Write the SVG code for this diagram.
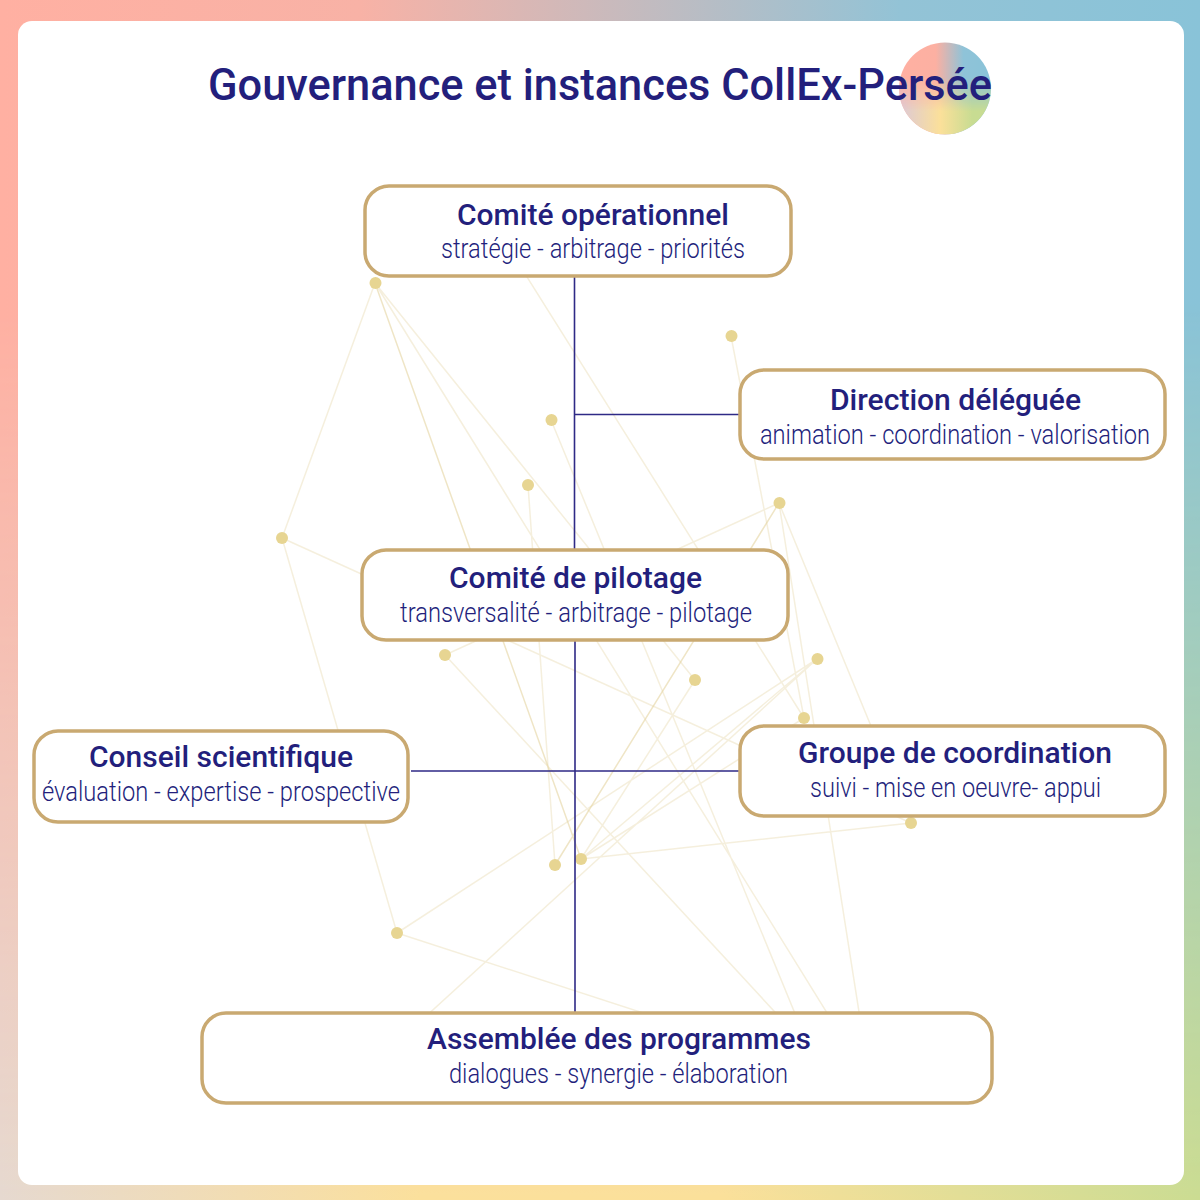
<svg xmlns="http://www.w3.org/2000/svg" width="1200" height="1200" viewBox="0 0 1200 1200">
<defs>
<linearGradient id="topg" x1="0" y1="0" x2="1" y2="0"><stop offset="0" stop-color="#ffb0a2"/><stop offset="0.3" stop-color="#f8b2a6"/><stop offset="0.75" stop-color="#93c3d6"/><stop offset="1" stop-color="#89c3d8"/></linearGradient>
<linearGradient id="botg" x1="0" y1="0" x2="1" y2="0"><stop offset="0" stop-color="#e6d9d0"/><stop offset="0.35" stop-color="#fbe09c"/><stop offset="0.6" stop-color="#fbe09a"/><stop offset="1" stop-color="#cbdc92"/></linearGradient>
<linearGradient id="fade" x1="0" y1="0" x2="0" y2="1"><stop offset="0.25" stop-color="#000"/><stop offset="1" stop-color="#fff"/></linearGradient>
<mask id="bm" maskContentUnits="objectBoundingBox"><rect width="1" height="1" fill="url(#fade)"/></mask>
<linearGradient id="ltop" x1="0" y1="0" x2="1" y2="0"><stop offset="0" stop-color="#ffb0a2"/><stop offset="0.4" stop-color="#fcb0a2"/><stop offset="0.7" stop-color="#8fc3d8"/><stop offset="1" stop-color="#8ac3d8"/></linearGradient>
<linearGradient id="lbot" x1="0" y1="0" x2="1" y2="0"><stop offset="0" stop-color="#dcc8d8"/><stop offset="0.45" stop-color="#fbe09a"/><stop offset="0.8" stop-color="#c8dc92"/></linearGradient>
<linearGradient id="lfade" x1="0" y1="0" x2="0" y2="1"><stop offset="0.38" stop-color="#000"/><stop offset="0.75" stop-color="#fff"/></linearGradient>
<mask id="lm" maskContentUnits="objectBoundingBox"><rect width="1" height="1" fill="url(#lfade)"/></mask>
<style>
.box{fill:#fff;stroke:#c9a971;stroke-width:3.5}
.t{font-family:Roboto,"Liberation Sans",sans-serif;fill:#231f7c;text-anchor:middle}
.h{font-size:30px;font-weight:500}
.s{font-size:28px;font-weight:300}
.w{stroke:#e4d4a0;stroke-width:1.5;opacity:.36;fill:none}
.x{stroke:#e4d4a0;stroke-width:1.5;opacity:.6;fill:none}
.c{stroke:#2f2a86;stroke-width:1.6;fill:none}
.d{fill:#e7d592}
</style>
</defs>
<g id="background">
<rect width="1200" height="1200" fill="url(#topg)"/>
<rect width="1200" height="1200" fill="url(#botg)" mask="url(#bm)"/>
<rect x="18" y="21" width="1166" height="1164" rx="14" fill="#fff"/>
</g>
<g id="logo">
<circle cx="945" cy="88.500" r="46" fill="url(#ltop)"/>
<circle cx="945" cy="88.500" r="46" fill="url(#lbot)" mask="url(#lm)"/>
</g>
<g id="network">
<path class="w" d="M375 283L282 538M375 283L850 1050M375 283L695 680M500 234L804 718M551 420L810 1050M528 485L555 865M731 336L804 718M445 655L779 503M779 503L865 1050M779 503L911 823M911 823L581 859M817 659L397 933M817 659L581 859M817 659L400 1040M282 538L911 823M282 538L397 933M397 933L757 1050M445 655L810 1050M581 859L695 680M581 859L804 718"/>
<path class="x" d="M375 283L581 859M779 503L555 865"/>
<circle class="d" cx="375.500" cy="283" r="6"/><circle class="d" cx="731.500" cy="336" r="6"/><circle class="d" cx="551.500" cy="420" r="6"/><circle class="d" cx="528" cy="485" r="6"/><circle class="d" cx="779.500" cy="503" r="6"/><circle class="d" cx="282" cy="538" r="6"/><circle class="d" cx="445" cy="655" r="6"/><circle class="d" cx="817.500" cy="659" r="6"/><circle class="d" cx="695" cy="680" r="6"/><circle class="d" cx="804" cy="718" r="6"/><circle class="d" cx="911" cy="823" r="6"/><circle class="d" cx="581" cy="859" r="6"/><circle class="d" cx="555" cy="865" r="6"/><circle class="d" cx="397" cy="933" r="6"/>
</g>
<g id="connectors">
<path class="c" d="M574.500 276V550M575 414.500H740M575 640V1013M411 771H740"/>
</g>
<text class="t" x="600" y="100" font-size="44" font-weight="500" textLength="784" lengthAdjust="spacingAndGlyphs">Gouvernance et instances CollEx-Persée</text>
<g id="comite-operationnel"><rect class="box" x="365" y="186" width="426" height="90" rx="24"/><text class="t h" x="593" y="225" textLength="272" lengthAdjust="spacingAndGlyphs">Comité opérationnel</text><text class="t s" x="593" y="258" textLength="304" lengthAdjust="spacingAndGlyphs">stratégie - arbitrage - priorités</text></g>
<g id="direction-deleguee"><rect class="box" x="740" y="370" width="425" height="89" rx="24"/><text class="t h" x="955.500" y="410" textLength="251" lengthAdjust="spacingAndGlyphs">Direction déléguée</text><text class="t s" transform="translate(955 444) scale(.846 1)">animation - coordination - valorisation</text></g>
<g id="comite-pilotage"><rect class="box" x="362" y="550" width="426" height="90" rx="24"/><text class="t h" x="575.500" y="588" textLength="253" lengthAdjust="spacingAndGlyphs">Comité de pilotage</text><text class="t s" x="576" y="622" textLength="352" lengthAdjust="spacingAndGlyphs">transversalité - arbitrage - pilotage</text></g>
<g id="conseil-scientifique"><rect class="box" x="34" y="731" width="374" height="91" rx="24"/><text class="t h" x="221" y="767" textLength="264" lengthAdjust="spacingAndGlyphs">Conseil scientifique</text><text class="t s" x="221" y="801" textLength="358" lengthAdjust="spacingAndGlyphs">évaluation - expertise - prospective</text></g>
<g id="groupe-coordination"><rect class="box" x="740" y="726" width="425" height="90" rx="24"/><text class="t h" x="955" y="763" textLength="314" lengthAdjust="spacingAndGlyphs">Groupe de coordination</text><text class="t s" x="955.500" y="797" textLength="291" lengthAdjust="spacingAndGlyphs">suivi - mise en oeuvre- appui</text></g>
<g id="assemblee-programmes"><rect class="box" x="202" y="1013" width="790" height="90" rx="24"/><text class="t h" x="619" y="1049" textLength="384" lengthAdjust="spacingAndGlyphs">Assemblée des programmes</text><text class="t s" x="618.500" y="1083" textLength="339" lengthAdjust="spacingAndGlyphs">dialogues - synergie - élaboration</text></g>
</svg>
